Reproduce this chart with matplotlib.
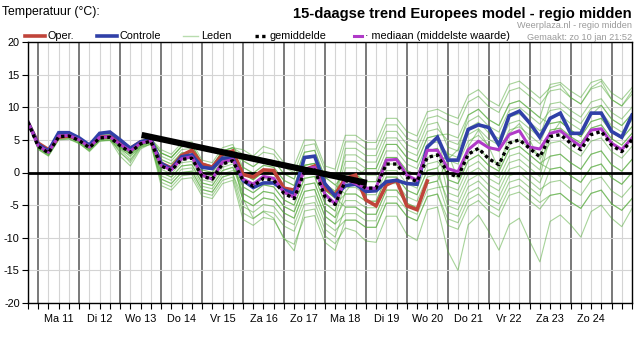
import matplotlib
matplotlib.use("Agg")
import matplotlib.pyplot as plt
from matplotlib.lines import Line2D

plt.rcParams['font.family'] = ['Liberation Sans', 'DejaVu Sans']

# ---- data: 6-hourly steps from 10 jan 18:00 to 25 jan 12:00 ----
day_labels = ["Ma 11", "Di 12", "Wo 13", "Do 14", "Vr 15", "Za 16", "Zo 17",
              "Ma 18", "Di 19", "Wo 20", "Do 21", "Vr 22", "Za 23", "Zo 24"]
y_ticks = [20, 15, 10, 5, 0, -5, -10, -15, -20]

oper = [7.7, 4.5, 3.5, 5.4, 5.6, 5.1, 4.1, 5.4, 5.5, 4.8, 3.7, 4.7, 5.0, 1.4, 0.7,
        2.6, 3.4, 1.3, 0.8, 2.8, 3.3, -0.3, -0.7, 0.4, 0.3, -2.4, -2.7, 0.4, 1.0,
        -2.4, -3.4, -0.9, -0.4, -4.2, -5.1, -1.9, -1.2, -5.1, -5.7, -1.3]

controle = [7.7, 4.3, 3.3, 6.1, 6.1, 5.3, 4.2, 6.0, 6.2, 5.0, 3.7, 4.7, 5.1, 1.4, 0.5,
            2.4, 2.7, 0.8, 0.6, 2.2, 2.2, -1.2, -2.3, -1.6, -1.6, -2.7, -3.2, 2.3, 2.5,
            -1.7, -3.6, -2.0, -1.8, -2.9, -2.8, -1.4, -1.2, -1.7, -1.8, 3.9, 5.4, 1.9,
            1.9, 6.6, 7.3, 6.9, 4.2, 8.7, 9.4, 7.6, 5.4, 8.3, 9.1, 6.0, 6.0, 9.1, 9.1,
            6.3, 5.4, 8.8]

gemiddelde = [7.7, 4.0, 3.0, 5.5, 5.6, 4.9, 3.8, 5.3, 5.4, 4.1, 3.1, 4.4, 4.8, 1.0, 0.3,
              2.0, 2.2, -0.6, -1.0, 1.3, 1.8, -1.2, -2.1, -0.9, -1.2, -3.2, -4.0, 0.1,
              0.4, -3.7, -4.9, -1.3, -1.3, -2.4, -2.4, 1.3, 1.3, -0.7, -1.4, 2.3, 2.7,
              -0.1, -0.7, 2.8, 3.7, 2.1, 1.2, 4.5, 5.0, 3.7, 2.4, 5.5, 5.8, 4.5, 3.5,
              5.8, 6.3, 4.2, 3.2, 5.0]

mediaan = [7.7, 4.1, 3.1, 5.6, 5.7, 5.0, 3.9, 5.4, 5.5, 4.3, 3.3, 4.5, 4.9, 1.1, 0.4,
           2.1, 2.4, -0.4, -1.0, 1.6, 2.0, -1.0, -1.8, -0.6, -0.9, -3.0, -3.8, 0.5, 0.8,
           -3.3, -4.8, -1.0, -1.7, -2.4, -2.4, 1.9, 2.0, -0.4, -1.2, 3.4, 3.4, 0.6, 0.1,
           3.5, 4.8, 3.8, 3.5, 5.8, 6.4, 3.9, 3.6, 6.0, 6.4, 5.1, 4.0, 6.5, 6.7, 4.5,
           3.5, 5.3]

leden = [
    [7.7, 4.5, 3.5, 6.0, 6.1, 5.4, 4.3, 5.8, 5.9, 4.6, 3.6, 4.9, 5.3,
     3.0, 2.3, 4.0, 4.2, 1.4, 1.0, 3.3, 3.8,
     2.8, 1.9, 3.1, 2.8, 0.8, 0.0, 4.1, 4.4, 0.3, -0.9,
     4.7, 4.7, 3.6, 3.6, 7.3, 7.3, 5.3, 4.6, 8.3, 8.7,
     7.9, 7.3, 10.8, 11.7, 10.1, 9.2, 12.5, 13.0, 11.7, 10.4,
     12.5, 12.8, 11.5, 10.5, 12.8, 13.3, 11.2, 10.2, 12.0],
    [7.7, 3.5, 2.5, 5.0, 5.1, 4.4, 3.3, 4.8, 4.9, 3.6, 2.6, 3.9, 4.3,
     -1.0, -1.7, 0.0, 0.2, -2.6, -3.0, -0.7, -0.2,
     -5.2, -6.1, -4.9, -5.2, -7.2, -8.0, -3.9, -3.6, -7.7, -8.9,
     -7.3, -7.3, -8.4, -8.4, -4.7, -4.7, -6.7, -7.4, -3.7, -3.3,
     -8.1, -8.7, -5.2, -4.3, -5.9, -6.8, -3.5, -3.0, -4.3, -5.6,
     -3.5, -3.2, -4.5, -5.5, -3.2, -2.7, -4.8, -5.8, -4.0],
    [7.7, 4.2, 3.3, 5.8, 5.8, 5.0, 3.6, 5.1, 5.6, 3.8, 2.4, 4.2, 4.9,
     2.0, 1.3, 3.0, 3.2, 0.4, 0.0, 2.3, 2.8,
     0.8, -0.1, 1.1, 0.8, -1.2, -2.0, 2.1, 2.4, -1.7, -2.9,
     2.7, 2.7, 1.6, 1.6, 5.3, 5.3, 3.3, 2.6, 6.3, 6.7,
     4.9, 4.3, 7.8, 8.7, 7.1, 6.2, 9.5, 10.0, 8.7, 7.4,
     9.5, 9.8, 8.5, 7.5, 9.8, 10.3, 8.2, 7.2, 9.0],
    [7.7, 3.8, 2.8, 5.3, 5.5, 4.7, 3.5, 5.0, 5.2, 3.5, 2.0, 4.0, 4.6,
     0.0, -0.7, 1.0, 1.2, -1.6, -2.0, 0.3, 0.8,
     -3.2, -4.1, -2.9, -3.2, -5.2, -6.0, -1.9, -1.6, -5.7, -6.9,
     -4.3, -4.3, -5.4, -5.4, -1.7, -1.7, -3.7, -4.4, -0.7, -0.3,
     -4.1, -4.7, -1.2, -0.3, -1.9, -2.8, 0.5, 1.0, -0.3, -1.6,
     2.5, 2.8, 1.5, 0.5, 2.8, 3.3, 1.2, 0.2, 2.0],
    [7.7, 4.3, 3.3, 5.8, 5.9, 5.2, 4.1, 5.6, 5.7, 4.4, 3.4, 4.7, 5.1,
     1.5, 0.8, 2.5, 2.7, -0.1, -0.5, 1.8, 2.3,
     -2.2, -3.1, -1.9, -2.2, -4.2, -5.0, -0.9, -0.6, -4.7, -5.9,
     0.7, 0.7, -0.4, -0.4, 3.3, 3.3, 1.3, 0.6, 4.3, 4.7,
     2.9, 2.3, 5.8, 6.7, 5.1, 4.2, 7.5, 8.0, 6.7, 5.4,
     10.5, 10.8, 9.5, 8.5, 10.8, 11.3, 9.2, 8.2, 10.0],
    [7.7, 3.6, 2.6, 5.1, 5.2, 4.5, 3.2, 4.8, 5.0, 2.5, 1.0, 3.6, 4.4,
     -2.0, -2.7, -1.0, -0.8, -3.6, -4.0, -1.7, -1.2,
     -7.2, -8.1, -6.9, -7.2, -10.0, -12.0, -5.9, -5.6, -9.7, -10.9,
     -8.5, -9.0, -10.5, -10.7, -6.7, -6.7, -9.5, -10.4, -5.7, -5.3,
     -12.0, -15.0, -8.0, -6.5, -9.0, -11.9, -8.0, -7.0, -10.5, -13.7,
     -7.5, -6.5, -8.0, -9.9, -6.0, -5.0, -7.0, -8.3, -5.5],
    [7.7, 4.1, 3.2, 5.7, 5.7, 5.0, 4.0, 5.4, 5.5, 4.2, 3.3, 4.5, 4.9,
     3.0, 2.3, 4.0, 4.2, 1.4, 1.0, 3.3, 3.8,
     1.8, 0.9, 2.1, 1.8, -0.2, -1.0, 3.1, 3.4, -0.7, -1.9,
     -0.3, -0.3, -1.4, -1.4, 2.3, 2.3, 0.3, -0.4, 3.3, 3.7,
     -1.1, -1.7, 1.8, 2.7, 1.1, 0.2, 3.5, 4.0, 2.7, 1.4,
     2.5, 2.8, 1.5, 0.5, 2.8, 3.3, 1.2, 0.2, 2.0],
    [7.7, 3.9, 2.9, 5.4, 5.5, 4.8, 3.7, 5.2, 5.3, 3.9, 2.8, 4.3, 4.7,
     0.5, -0.2, 1.5, 1.7, -1.1, -1.5, 0.8, 1.3,
     -0.2, -1.1, 0.1, -0.2, -2.2, -3.0, 1.1, 1.4, -2.7, -3.9,
     1.7, 1.7, 0.6, 0.6, 4.3, 4.3, 2.3, 1.6, 5.3, 5.7,
     5.9, 5.3, 8.8, 9.7, 8.1, 7.2, 10.5, 11.0, 9.7, 8.4,
     13.5, 13.8, 12.5, 11.5, 13.8, 14.3, 12.2, 11.2, 13.0],
    [7.7, 4.2, 3.2, 5.7, 5.8, 5.1, 4.0, 5.5, 5.6, 4.3, 3.3, 4.6, 5.0,
     1.0, 0.3, 2.0, 2.2, -0.6, -1.0, 1.3, 1.8,
     -4.2, -5.1, -3.9, -4.2, -6.2, -7.0, -2.9, -2.6, -6.7, -7.9,
     -6.3, -6.3, -7.4, -7.4, -3.7, -3.7, -5.7, -6.4, -2.7, -2.3,
     -2.1, -2.7, 0.8, 1.7, 0.1, -0.8, 2.5, 3.0, 1.7, 0.4,
     6.5, 6.8, 5.5, 4.5, 6.8, 7.3, 5.2, 4.2, 6.0],
    [7.7, 3.8, 2.8, 5.3, 5.4, 4.7, 3.6, 5.1, 5.2, 3.9, 2.9, 4.2, 4.6,
     2.5, 1.8, 3.5, 3.7, 0.9, 0.5, 2.8, 3.3,
     -1.2, -2.1, -0.9, -1.2, -3.2, -4.0, 0.1, 0.4, -3.7, -4.9,
     -3.3, -3.3, -4.4, -4.4, -0.7, -0.7, -2.7, -3.4, 0.3, 0.7,
     -5.1, -5.7, -2.2, -1.3, -2.9, -3.8, -0.5, 0.0, -1.3, -2.6,
     -1.5, -1.2, -2.5, -3.5, -1.2, -0.7, -2.8, -3.8, -2.0],
    [7.7, 4.0, 3.0, 5.5, 5.7, 4.9, 3.9, 5.3, 5.5, 4.0, 3.0, 4.4, 4.8,
     -0.5, -1.2, 0.5, 0.7, -2.1, -2.5, -0.2, 0.3,
     -0.2, -1.1, 0.1, -0.2, -2.2, -3.0, 1.1, 1.4, -2.7, -3.9,
     3.7, 3.7, 2.6, 2.6, 6.3, 6.3, 4.3, 3.6, 7.3, 7.7,
     3.9, 3.3, 6.8, 7.7, 6.1, 5.2, 8.5, 9.0, 7.7, 6.4,
     7.5, 7.8, 6.5, 5.5, 7.8, 8.3, 6.2, 5.2, 7.0],
    [7.7, 4.1, 3.1, 5.6, 5.6, 4.9, 3.8, 5.3, 5.4, 4.1, 3.1, 4.4, 4.8,
     1.5, 0.8, 2.5, 2.7, -0.1, -0.5, 1.8, 2.3,
     -3.2, -4.1, -2.9, -3.2, -5.2, -6.0, -1.9, -1.6, -5.7, -6.9,
     -1.3, -1.3, -2.4, -2.4, 1.3, 1.3, -0.7, -1.4, 2.3, 2.7,
     1.9, 1.3, 4.8, 5.7, 4.1, 3.2, 6.5, 7.0, 5.7, 4.4,
     8.5, 8.8, 7.5, 6.5, 8.8, 9.3, 7.2, 6.2, 8.0],
    [7.7, 4.4, 3.4, 5.9, 6.0, 5.3, 4.2, 5.7, 5.8, 4.5, 3.5, 4.8, 5.2,
     3.5, 2.8, 4.5, 4.7, 1.9, 1.5, 3.8, 4.3,
     0.8, -0.1, 1.1, 0.8, -1.2, -2.0, 2.1, 2.4, -1.7, -2.9,
     -2.3, -2.3, -3.4, -3.4, 0.3, 0.3, -1.7, -2.4, 1.3, 1.7,
     -0.1, -0.7, 2.8, 3.7, 2.1, 1.2, 4.5, 5.0, 3.7, 2.4,
     6.5, 6.8, 5.5, 4.5, 6.8, 7.3, 5.2, 4.2, 6.0],
    [7.7, 3.6, 2.6, 5.1, 5.2, 4.5, 3.4, 4.9, 5.0, 3.2, 1.5, 3.8, 4.4,
     -1.5, -2.2, -0.5, -0.3, -3.1, -3.5, -1.2, -0.7,
     -6.2, -7.1, -5.9, -6.2, -8.2, -9.0, -4.9, -4.6, -8.7, -9.9,
     -5.3, -5.3, -6.4, -6.4, -2.7, -2.7, -4.7, -5.4, -1.7, -1.3,
     -6.1, -6.7, -3.2, -2.3, -3.9, -4.8, -1.5, -1.0, -2.3, -3.6,
     0.5, 0.8, -0.5, -1.5, 0.8, 1.3, -0.8, -1.8, 0.0],
    [7.7, 4.2, 3.2, 5.7, 5.8, 5.1, 4.0, 5.5, 5.6, 4.3, 3.3, 4.6, 5.0,
     2.0, 1.3, 3.0, 3.2, 0.4, 0.0, 2.3, 2.8,
     1.8, 0.9, 2.1, 1.8, -0.2, -1.0, 3.1, 3.4, -0.7, -1.9,
     -3.3, -3.3, -4.4, -4.4, -0.7, -0.7, -2.7, -3.4, 0.3, 0.7,
     3.0, -1.0, 4.0, 6.5, 4.0, 0.5, 6.0, 7.5, 5.0, 2.0,
     4.5, 4.8, 3.5, 2.5, 4.8, 5.3, 3.2, 2.2, 4.0],
    [7.7, 3.8, 2.8, 5.3, 5.4, 4.7, 3.6, 5.1, 5.2, 3.9, 2.9, 4.2, 4.6,
     0.0, -0.7, 1.0, 1.2, -1.6, -2.0, 0.3, 0.8,
     -2.2, -3.1, -1.9, -2.2, -4.2, -5.0, -0.9, -0.6, -4.7, -5.9,
     -0.3, -0.3, -1.4, -1.4, 2.3, 2.3, 0.3, -0.4, 3.3, 3.7,
     -3.1, -3.7, -0.2, 0.7, -0.9, -1.8, 1.5, 2.0, 0.7, -0.6,
     5.5, 7.8, 6.5, 5.5, 8.8, 10.3, 8.2, 7.2, 9.0],
    [7.7, 4.0, 3.1, 5.5, 5.6, 4.9, 3.9, 5.3, 5.4, 4.0, 3.0, 4.3, 4.8,
     1.0, 0.3, 2.0, 2.2, -0.6, -1.0, 1.3, 1.8,
     -0.2, -1.1, 0.1, -0.2, -2.2, -3.0, 1.1, 1.4, -2.7, -3.9,
     -5.3, -5.3, -6.4, -6.4, -2.7, -2.7, -4.7, -5.4, -1.7, -1.3,
     2.0, 3.5, 8.8, 9.7, 8.1, 7.2, 10.5, 11.0, 9.7, 8.4,
     7.5, 7.8, 6.5, 5.5, 7.8, 8.3, 6.2, 5.2, 7.0],
    [7.7, 4.1, 3.0, 5.6, 5.7, 5.0, 3.8, 5.4, 5.5, 4.2, 3.2, 4.5, 4.9,
     1.5, 0.8, 2.5, 2.7, -0.1, -0.5, 1.8, 2.3,
     -4.2, -5.1, -3.9, -4.2, -6.2, -7.0, -2.9, -2.6, -6.7, -7.9,
     -3.0, -1.0, 0.6, 0.6, 4.3, 4.3, 2.3, 1.6, 5.3, 5.7,
     -1.1, -1.7, 1.8, 2.7, 1.1, 0.2, 3.5, 4.0, 2.7, 1.4,
     0.5, 0.8, -0.5, -1.5, 0.8, 1.3, -0.8, -1.8, 0.0],
    [7.7, 3.9, 2.9, 5.4, 5.5, 4.8, 3.7, 5.2, 5.3, 3.0, 1.8, 4.0, 4.6,
     -1.0, -1.7, 0.0, 0.2, -2.6, -3.0, -0.7, -0.2,
     -4.0, -7.0, -6.0, -7.0, -10.2, -11.0, -6.9, -6.6, -10.7, -11.9,
     -7.3, -7.3, -8.4, -8.4, -4.7, -4.7, -6.7, -7.4, -3.7, -3.3,
     -7.1, -7.7, -4.2, -3.3, -4.9, -5.8, -2.5, -2.0, -3.3, -4.6,
     -3.5, -3.2, -4.5, -5.5, -3.2, -2.7, -4.8, -5.8, -4.0],
    [7.7, 4.3, 3.4, 5.9, 6.0, 5.2, 4.2, 5.6, 5.7, 4.5, 3.5, 4.7, 5.1,
     3.0, 2.3, 4.0, 4.2, 1.4, 1.0, 3.3, 3.8,
     3.5, 2.5, 4.0, 3.5, 1.5, 1.0, 5.0, 5.0, 1.0, 0.5,
     5.7, 5.7, 4.6, 4.6, 8.3, 8.3, 6.3, 5.6, 9.3, 9.7,
     8.9, 8.3, 11.8, 12.7, 11.1, 10.2, 13.5, 14.0, 12.7, 11.4,
     13.0, 13.5, 11.5, 10.5, 13.0, 14.0, 11.2, 10.2, 12.5],
]

# hand-drawn trend arrow on the chart (start / end)
trend_x = [11.1, 33.1]
trend_y = [5.75, -1.6]

W, H = 641, 338
fig = plt.figure(figsize=(W / 100, H / 100), dpi=100)
fig.patch.set_facecolor('white')
ax = fig.add_axes([28 / W, 1 - 303 / H, (632 - 28) / W, (303 - 42) / H])

n = len(controle)
steps = list(range(n))
day_lines = list(range(1, n, 4))

# grid
for s in steps:
    if s in day_lines:
        ax.axvline(s, color='#555555', lw=1.1, zorder=1)
    else:
        ax.axvline(s, color='#d4d4d4', lw=0.8, zorder=1)
for yv in y_ticks:
    ax.axhline(yv, color='#d4d4d4', lw=0.8, zorder=1)

for m in leden:
    ax.plot(steps, m, color='#4fa834', lw=0.8, alpha=0.5, zorder=2)

ax.axhline(0, color='black', lw=2, zorder=3)
ax.plot(range(len(oper)), oper, color='#c0443a', lw=2.6, zorder=5, solid_joinstyle='miter')
ax.plot(steps, controle, color='#3040a8', lw=2.6, zorder=6, solid_joinstyle='miter')
ax.plot(steps, mediaan, color='#b03ac8', lw=2.2, zorder=7)
ax.plot(steps, gemiddelde, color='black', lw=2.4, ls=(0, (1, 1)), zorder=8)
ax.plot(trend_x, trend_y, color='black', lw=4.5, solid_capstyle='butt', zorder=9)

ax.set_xlim(0, n - 1)
ax.set_ylim(-20, 20)
ax.set_yticks(y_ticks)
ax.set_yticklabels([str(v) for v in y_ticks])
labels = [''] * n
for k, lab in enumerate(day_labels):
    labels[3 + 4 * k] = lab
ax.set_xticks(steps)
ax.set_xticklabels(labels)
ax.tick_params(axis='both', labelsize=7.8, length=4, width=0.8, color='black', pad=2)
ax.tick_params(axis='x', pad=4)
for sp in ax.spines.values():
    sp.set_color('black')
    sp.set_linewidth(1.0)
    sp.set_zorder(10)

def fx(x):
    return x / W

def fy(y):
    return 1 - y / H

fig.text(fx(2), fy(12), 'Temperatuur (°C):', fontsize=8.8, va='center', ha='left')
fig.text(fx(632), fy(14), '15-daagse trend Europees model - regio midden',
         fontsize=10.6, fontweight='bold', va='center', ha='right')
fig.text(fx(632), fy(26), 'Weerplaza.nl - regio midden', fontsize=6.6,
         color='#9a9a9a', va='center', ha='right')
fig.text(fx(632), fy(37), 'Gemaakt: zo 10 jan 21:52', fontsize=6.6,
         color='#9a9a9a', va='center', ha='right')

legend_items = [
    (25, 45, 'Oper.', dict(color='#c0443a', lw=2.6)),
    (97, 117, 'Controle', dict(color='#3040a8', lw=2.6)),
    (183, 198, 'Leden', dict(color='#b8dcae', lw=1.0)),
    (255, 267, 'gemiddelde', dict(color='black', lw=2.4, ls=(0, (1, 1)))),
    (354, 362, '· mediaan (middelste waarde)', dict(color='#b03ac8', lw=2.2)),
]
ly = 36
for x0, x1, txt, kw in legend_items:
    fig.add_artist(Line2D([fx(x0), fx(x1)], [fy(ly), fy(ly)], transform=fig.transFigure, **kw))
    fig.text(fx(x1 + 3), fy(ly), txt, fontsize=7.8, va='center', ha='left')

fig.savefig('out.png', dpi=100, facecolor='white')
